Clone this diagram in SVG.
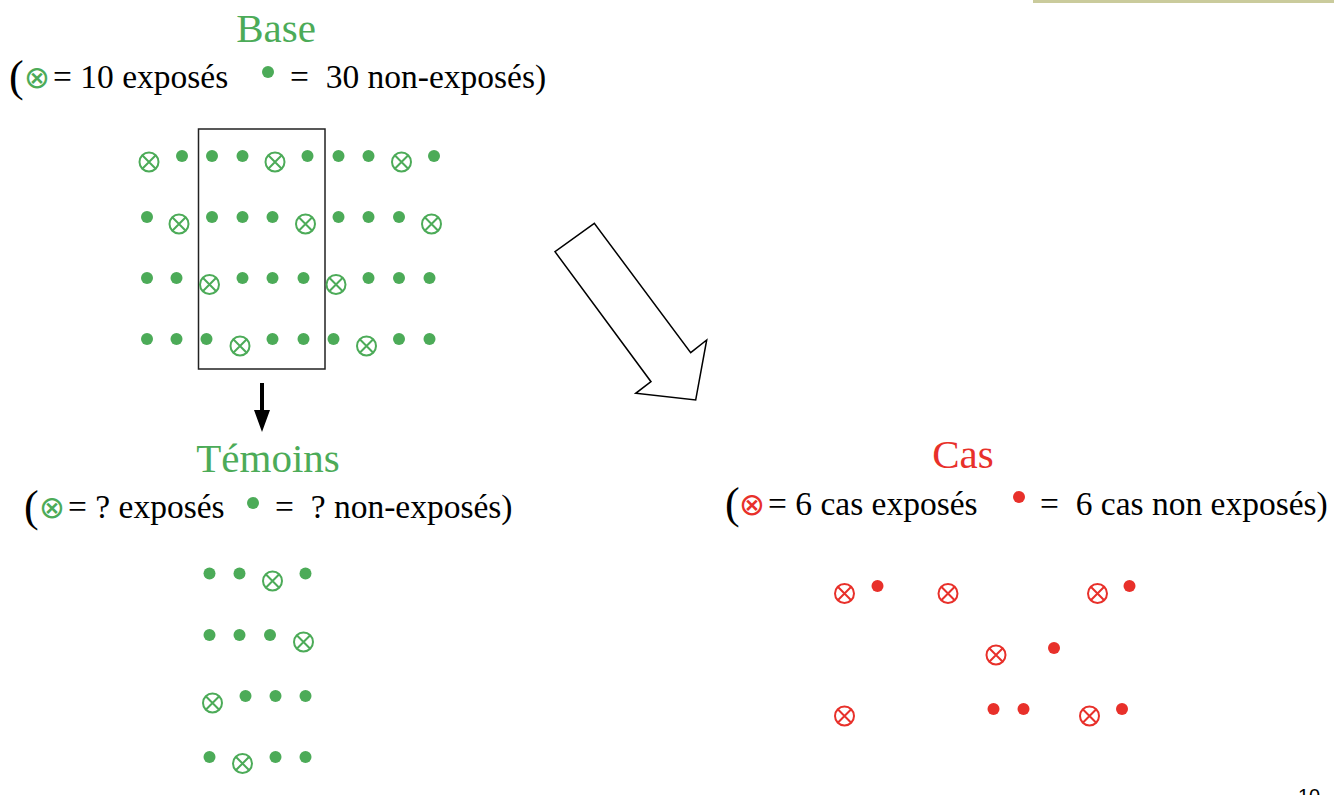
<svg xmlns="http://www.w3.org/2000/svg" width="1334" height="795" viewBox="0 0 1334 795">
<style>
.t{font-family:"Liberation Serif","Times New Roman",serif;fill:#000}
.title{font-size:41px}
.lg{font-size:33.5px}
.par{font-size:44px}
.sym{font-family:"DejaVu Sans",sans-serif;font-size:31px}
.g{fill:#4cab58}
.r{fill:#e8302a}
.dg{fill:#4cab58}
.dr{fill:#e8302a}
.xg{fill:none;stroke:#4cab58;stroke-width:2}
.xr{fill:none;stroke:#e8302a;stroke-width:2}
</style>
<defs>
<g id="xg"><circle r="9.5" class="xg"/><path d="M-6.7,-6.7L6.7,6.7M6.7,-6.7L-6.7,6.7" class="xg"/></g>
<g id="xr"><circle r="9.5" class="xr"/><path d="M-6.7,-6.7L6.7,6.7M6.7,-6.7L-6.7,6.7" class="xr"/></g>
<circle id="dg" r="6" class="dg"/>
<circle id="dr" r="6" class="dr"/>
</defs>
<rect x="0" y="0" width="1334" height="795" fill="#fff"/>
<rect x="1033" y="0" width="301" height="3" fill="#cacb9c"/>

<g id="base">
<text class="t title g" x="276" y="42" text-anchor="middle">Base</text>
<text class="t par" x="9" y="91">(</text>
<text class="sym g" x="24" y="88">⊗</text>
<text class="t lg" x="53" y="88">= 10 exposés</text>
<circle cx="268" cy="72" r="6" class="dg"/>
<text class="t lg" x="290" y="88" xml:space="preserve">=  30 non-exposés)</text>
<rect x="198.5" y="129" width="126.5" height="240" fill="none" stroke="#222" stroke-width="1.5"/>
<use href="#xg" x="149" y="162"/><use href="#dg" x="182" y="156"/><use href="#dg" x="212" y="156"/><use href="#dg" x="242.5" y="156"/><use href="#xg" x="275" y="162"/><use href="#dg" x="307.5" y="156"/><use href="#dg" x="338.5" y="156"/><use href="#dg" x="368.5" y="156"/><use href="#xg" x="401.5" y="162"/><use href="#dg" x="434" y="156"/>
<use href="#dg" x="147" y="217"/><use href="#xg" x="179" y="224"/><use href="#dg" x="212" y="217"/><use href="#dg" x="242.5" y="217"/><use href="#dg" x="272.5" y="217"/><use href="#xg" x="305.5" y="224"/><use href="#dg" x="338.5" y="217"/><use href="#dg" x="368.5" y="217"/><use href="#dg" x="399" y="217"/><use href="#xg" x="431.5" y="224"/>
<use href="#dg" x="147" y="278"/><use href="#dg" x="176.5" y="278"/><use href="#xg" x="209.5" y="284.5"/><use href="#dg" x="242.5" y="278"/><use href="#dg" x="272.5" y="278"/><use href="#dg" x="303.5" y="278"/><use href="#xg" x="336" y="284.5"/><use href="#dg" x="368.5" y="278"/><use href="#dg" x="399" y="278"/><use href="#dg" x="429.5" y="278"/>
<use href="#dg" x="147" y="339"/><use href="#dg" x="176.5" y="339"/><use href="#dg" x="206.5" y="339"/><use href="#xg" x="240" y="346"/><use href="#dg" x="272.5" y="339"/><use href="#dg" x="303.5" y="339"/><use href="#dg" x="333.5" y="339"/><use href="#xg" x="366.5" y="346"/><use href="#dg" x="399" y="339"/><use href="#dg" x="429.5" y="339"/>
</g>

<g id="temoins">
<text class="t title g" x="268" y="472" text-anchor="middle">Témoins</text>
<text class="t par" x="24" y="521">(</text>
<text class="sym g" x="39" y="518">⊗</text>
<text class="t lg" x="68" y="518">= ? exposés</text>
<circle cx="253" cy="503" r="6" class="dg"/>
<text class="t lg" x="275" y="518" xml:space="preserve">=  ? non-exposés)</text>
<use href="#dg" x="209.5" y="573.5"/><use href="#dg" x="239.5" y="573.5"/><use href="#xg" x="272.5" y="581"/><use href="#dg" x="305.5" y="573.5"/>
<use href="#dg" x="209.5" y="635"/><use href="#dg" x="239.5" y="635"/><use href="#dg" x="270" y="635"/><use href="#xg" x="303.5" y="642"/>
<use href="#xg" x="212.5" y="703"/><use href="#dg" x="245.5" y="696"/><use href="#dg" x="275.5" y="696"/><use href="#dg" x="305.5" y="696"/>
<use href="#dg" x="209.5" y="757"/><use href="#xg" x="242.5" y="763.5"/><use href="#dg" x="275.5" y="757"/><use href="#dg" x="305.5" y="757"/>
</g>

<g id="cas">
<text class="t title r" x="963" y="468" text-anchor="middle">Cas</text>
<text class="t par" x="725" y="518">(</text>
<text class="sym r" x="739" y="515">⊗</text>
<text class="t lg" x="768" y="515">= 6 cas exposés</text>
<circle cx="1019" cy="497" r="6" class="dr"/>
<text class="t lg" x="1040" y="515" xml:space="preserve">=  6 cas non exposés)</text>
<use href="#xr" x="844.5" y="593.5"/><use href="#dr" x="877.5" y="586"/><use href="#xr" x="948" y="593.5"/><use href="#xr" x="1097.5" y="593.5"/><use href="#dr" x="1129.5" y="586"/>
<use href="#xr" x="996" y="655"/><use href="#dr" x="1054" y="648"/>
<use href="#xr" x="844.5" y="716"/><use href="#dr" x="993.5" y="709"/><use href="#dr" x="1023.5" y="709"/><use href="#xr" x="1089.5" y="716"/><use href="#dr" x="1122" y="709"/>
</g>

<g id="connectors">
<polygon points="260,383 264,383 264,410 270,410 262,432 254,410 260,410" fill="#000"/>
<polygon points="594.3,223.3 555,251.7 651,381.7 635.7,393.3 695.7,400 706.7,340 690.7,352.7" fill="#fff" stroke="#000" stroke-width="1.5" stroke-linejoin="miter"/>
</g>

<text x="1298" y="803" style="font-family:'Liberation Sans',Arial,sans-serif;font-size:20px">10</text>
</svg>
